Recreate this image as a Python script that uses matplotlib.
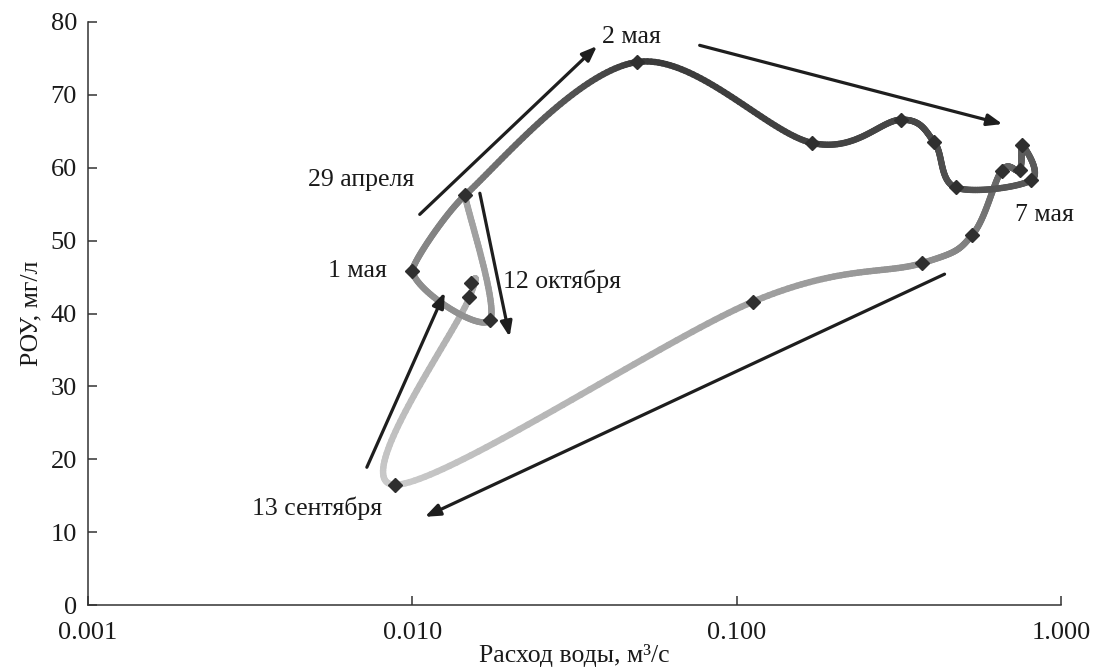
import numpy as np
import matplotlib
matplotlib.use("Agg")
import matplotlib.pyplot as plt
from matplotlib.collections import LineCollection
from matplotlib.ticker import FixedLocator, FixedFormatter

# ---- data (path order of the smoothed line) ----
flow = [0.0152, 0.0150, 0.00883, 0.112, 0.372, 0.533, 0.656, 0.745, 0.760, 0.810,
        0.473, 0.407, 0.322, 0.171, 0.0492, 0.01452, 0.0100, 0.01734, 0.01452]
rou = [44.2, 42.2, 16.5, 41.6, 46.9, 50.8, 59.6, 59.7, 63.1, 58.3,
       57.3, 63.5, 66.6, 63.4, 74.5, 56.2, 45.8, 39.1, 56.2]
# gray shade of the line at each point (0-255)
shade = [165, 170, 205, 160, 145, 125, 100, 95, 90, 90,
         80, 75, 70, 66, 58, 125, 138, 150, 165]

x_ticks = [0.001, 0.01, 0.1, 1.0]
x_tick_labels = ["0.001", "0.010", "0.100", "1.000"]
y_ticks = [0, 10, 20, 30, 40, 50, 60, 70, 80]

# labels: (text, x, y)
labels = [("2 мая", 0.0384, 77.9),
          ("29 апреля", 0.00476, 58.3),
          ("1 мая", 0.00549, 45.8),
          ("12 октября", 0.0190, 44.4),
          ("7 мая", 0.719, 53.5),
          ("13 сентября", 0.0032, 13.3)]
# arrows: (x_tail, y_tail, x_head, y_head)
arrows = [(0.00724, 18.9, 0.01259, 42.9),
          (0.01054, 53.6, 0.0371, 76.7),
          (0.0769, 76.8, 0.660, 66.0),
          (0.01615, 56.5, 0.01995, 36.8),
          (0.4375, 45.4, 0.01093, 12.1)]

plt.rcParams['font.family'] = ['Liberation Serif', 'DejaVu Serif']
fig = plt.figure(figsize=(10.93, 6.69), dpi=100)
ax = fig.add_axes([88/1093, 64/669, 973/1093, 583/669])
ax.set_xscale('log')
ax.set_xlim(0.001, 1.0)
ax.set_ylim(0, 80)

# Catmull-Rom smoothing in display space (Excel-like smoothed line)
pts = ax.transData.transform(np.column_stack([flow, rou]))
n = len(pts)
ext = np.vstack([pts[0], pts, pts[-1]])
tang = np.array([(ext[i + 2] - ext[i]) * 0.5 for i in range(n)])
# smoothing tension on the incoming / outgoing side of each point
t_in = np.ones(n)
t_out = np.ones(n)
t_in[16] = 0.3
t_out[15] = 0.55
sh = np.array(shade, float)
curve = []
cols = []
for i in range(n - 1):
    p1, p2 = pts[i], pts[i + 1]
    c1 = p1 + tang[i] * t_out[i] / 3.0
    c2 = p2 - tang[i + 1] * t_in[i + 1] / 3.0
    t = np.linspace(0, 1, 50)[:, None]
    seg = ((1 - t) ** 3) * p1 + 3 * ((1 - t) ** 2) * t * c1 + 3 * (1 - t) * t ** 2 * c2 + t ** 3 * p2
    tt = t[:, 0]
    if i > 0:
        seg = seg[1:]
        tt = tt[1:]
    curve.append(seg)
    cols.append(sh[i] + (sh[i + 1] - sh[i]) * tt)
curve = np.vstack(curve)
cols = np.concatenate(cols)
data_curve = ax.transData.inverted().transform(curve)
segs = np.stack([data_curve[:-1], data_curve[1:]], axis=1)
seg_cols = [(c / 255, c / 255, c / 255) for c in 0.5 * (cols[:-1] + cols[1:])]
lc = LineCollection(segs, colors=seg_cols, linewidths=4.6, capstyle='round', joinstyle='round', zorder=2)
ax.add_collection(lc)

ax.plot(flow[:-1], rou[:-1], linestyle='none', marker='D', markersize=7.5,
        color='#2f2f2f', zorder=3)

for (x0, y0, x1, y1) in arrows:
    ax.annotate('', xy=(x1, y1), xytext=(x0, y0),
                arrowprops=dict(arrowstyle='-|>,head_length=0.9,head_width=0.35',
                                color='#1e1e1e', lw=2.3, shrinkA=0, shrinkB=0),
                zorder=4)

for (txt, x, y) in labels:
    ax.text(x, y, txt, fontsize=18.5, color='#1a1a1a', ha='left', va='center')

ax.spines['top'].set_visible(False)
ax.spines['right'].set_visible(False)
for s in ('left', 'bottom'):
    ax.spines[s].set_color('#333333')
    ax.spines[s].set_linewidth(1.1)
ax.xaxis.set_major_locator(FixedLocator(x_ticks))
ax.xaxis.set_major_formatter(FixedFormatter(x_tick_labels))
ax.xaxis.set_minor_locator(FixedLocator([]))
ax.set_yticks(y_ticks)
ax.tick_params(direction='in', length=6.5, width=1.1, color='#333333',
               labelsize=19, labelcolor='#1a1a1a')
ax.tick_params(axis='y', pad=8)
ax.tick_params(axis='x', pad=12)
ax.set_xlabel('Расход воды, м³/с', fontsize=18.5, color='#1a1a1a', labelpad=0)
ax.set_ylabel('РОУ, мг/л', fontsize=18.5, color='#1a1a1a', labelpad=6)

fig.savefig('out.png', dpi=100)
